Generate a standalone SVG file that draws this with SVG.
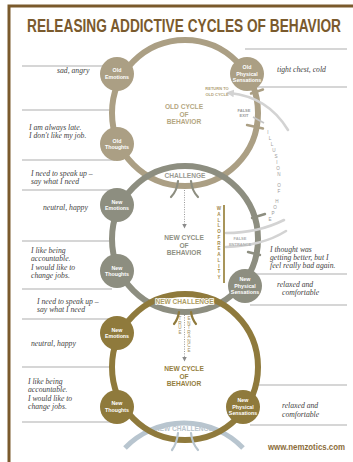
<svg xmlns="http://www.w3.org/2000/svg" width="353" height="462" viewBox="0 0 353 462">
<defs>
<style>
.hand{font-family:"Liberation Serif","DejaVu Serif",serif;font-style:italic;font-size:7.7px;fill:#444}
.nl{font-family:"Liberation Sans",Arial,sans-serif;font-weight:bold;font-size:5.3px;fill:#fff;text-anchor:middle}
.ct{font-family:"Liberation Sans",Arial,sans-serif;font-weight:bold;font-size:6.6px;text-anchor:middle}
.sm{font-family:"Liberation Sans",Arial,sans-serif;font-weight:bold;font-size:4px;text-anchor:middle}
.vl{font-family:"Liberation Sans",Arial,sans-serif;font-size:4.6px;text-anchor:middle}
.rule{stroke:#c9c9c9;stroke-width:1.3;fill:none}
.ring{fill:none;stroke-width:6}
.old{stroke:#ab9f84}
.new{stroke:#8d8e80}
.gold{stroke:#8f7a3c}
.nodeOld{fill:#ab9f84}
.nodeNew{fill:#8d8e80}
.nodeGold{fill:#8f7a3c}
.hook{fill:none;stroke-width:2.2;stroke-linecap:round}
.tick{stroke-width:2.4;stroke-linecap:round}
.dot{stroke:#9a9a9a;stroke-width:1;stroke-dasharray:1 1.4;fill:none}
.pale{fill:none;stroke:#d3d3d3;stroke-width:2.6;stroke-linecap:round}
.halo{stroke:#fff;stroke-width:1.4;paint-order:stroke}
</style>
<marker id="ah" viewBox="0 0 6 6" refX="3" refY="3" markerWidth="5" markerHeight="5" orient="auto"><path d="M0,0 L6,3 L0,6 z" fill="#8a8a8a"/></marker>
<marker id="ahp" viewBox="0 0 6 6" refX="3" refY="3" markerWidth="3" markerHeight="3" orient="auto-start-reverse"><path d="M0,0 L6,3 L0,6 z" fill="#d3d3d3"/></marker>
</defs>
<rect width="353" height="462" fill="#fff"/>
<rect x="9" y="6" width="400" height="500" fill="none" stroke="#7a5a2c" stroke-width="3"/>
<text transform="translate(184,32) scale(0.74,1)" x="0" y="0" text-anchor="middle" font-family="Liberation Sans, Arial, sans-serif" font-weight="bold" font-size="18.5" fill="#7a5a2d">RELEASING ADDICTIVE CYCLES OF BEHAVIOR</text>

<g id="rules">
<line class="rule" x1="22" y1="66" x2="112" y2="66"/>
<line class="rule" x1="22" y1="110" x2="112" y2="110"/>
<line class="rule" x1="22" y1="160" x2="115" y2="160"/>
<line class="rule" x1="22" y1="190" x2="113" y2="190"/>
<line class="rule" x1="22" y1="241" x2="114" y2="241"/>
<line class="rule" x1="22" y1="289" x2="112" y2="289"/>
<line class="rule" x1="22" y1="319" x2="112" y2="319"/>
<line class="rule" x1="22" y1="367" x2="111" y2="367"/>
<line class="rule" x1="22" y1="422" x2="112" y2="422"/>
<line class="rule" x1="245" y1="49" x2="347" y2="49"/>
<line class="rule" x1="253" y1="87" x2="347" y2="87"/>
<line class="rule" x1="250" y1="274" x2="347" y2="274"/>
<line class="rule" x1="250" y1="305" x2="347" y2="305"/>
<line class="rule" x1="255" y1="385" x2="347" y2="385"/>
<line class="rule" x1="250" y1="425" x2="347" y2="425"/>
</g>

<g id="connectors">
<path d="M125,448 A82,82 0 0 1 243,448" fill="none" stroke="#b8c5cf" stroke-width="5"/>
<circle cx="185" cy="113" r="73" class="ring old"/>
<circle cx="185" cy="239" r="73" class="ring new"/>
<circle cx="185" cy="367" r="73" class="ring gold"/>
<line class="tick old" x1="251" y1="93.5" x2="263" y2="89.5"/>
<line class="tick old" x1="247" y1="125" x2="263" y2="128.5"/>
<line class="tick new" x1="252" y1="218" x2="265" y2="214"/>
<line class="tick new" x1="248" y1="252" x2="260" y2="255"/>
<path class="hook new" d="M178,181 Q177,191 171,197"/>
<path class="hook new" d="M191,181 Q192,191 198,197"/>
<path class="hook gold" d="M179,312 Q178,319 174,324"/>
<path class="hook gold" d="M191,312 Q192,319 196,324"/>
<path class="hook" stroke="#b8c5cf" d="M178,433 Q177,443 172,450"/>
<path class="hook" stroke="#b8c5cf" d="M191,433 Q192,443 198,450"/>
<line class="dot" x1="184.5" y1="190" x2="184.5" y2="226" marker-end="url(#ah)"/>
<line class="dot" x1="184.5" y1="315" x2="184.5" y2="359" marker-end="url(#ah)"/>
<path class="pale" d="M230,93 Q268,97 288,130" marker-start="url(#ahp)"/>
<line x1="253" y1="117" x2="264" y2="123" stroke="#c4c4c4" stroke-width="1.6"/>
<path class="pale" d="M226,233 Q258,233 284,220"/>
<path class="pale" d="M226,247 Q262,246 286,231"/>
<line x1="224" y1="205" x2="224" y2="283" stroke="#a8955a" stroke-width="2"/>
</g>

<g id="old-emotions"><circle cx="117" cy="74" r="17" class="nodeOld"/><text class="nl" x="117" y="72">Old</text><text class="nl" x="117" y="78.5">Emotions</text></g>
<g id="old-physical"><circle cx="247" cy="74" r="17" class="nodeOld"/><text class="nl" x="247" y="69">Old</text><text class="nl" x="247" y="75.5">Physical</text><text class="nl" x="247" y="82">Sensations</text></g>
<g id="old-thoughts"><circle cx="117" cy="144" r="17" class="nodeOld"/><text class="nl" x="117" y="142.5">Old</text><text class="nl" x="117" y="149">Thoughts</text></g>
<g id="new-emotions-1"><circle cx="117" cy="205" r="17" class="nodeNew"/><text class="nl" x="117" y="203.5">New</text><text class="nl" x="117" y="210">Emotions</text></g>
<g id="new-thoughts-1"><circle cx="117" cy="271" r="17" class="nodeNew"/><text class="nl" x="117" y="269.5">New</text><text class="nl" x="117" y="276">Thoughts</text></g>
<g id="new-physical-1"><circle cx="245" cy="286" r="17" class="nodeNew"/><text class="nl" x="245" y="281">New</text><text class="nl" x="245" y="287.5">Physical</text><text class="nl" x="245" y="294">Sensations</text></g>
<g id="new-emotions-2"><circle cx="117" cy="333" r="17" class="nodeGold"/><text class="nl" x="117" y="331.5">New</text><text class="nl" x="117" y="338">Emotions</text></g>
<g id="new-thoughts-2"><circle cx="117" cy="407" r="17" class="nodeGold"/><text class="nl" x="117" y="405">New</text><text class="nl" x="117" y="411.5">Thoughts</text></g>
<g id="new-physical-2"><circle cx="243" cy="407" r="17" class="nodeGold"/><text class="nl" x="243" y="402">New</text><text class="nl" x="243" y="408.5">Physical</text><text class="nl" x="243" y="415">Sensations</text></g>

<g id="cycle-labels">
<text class="ct" fill="#b5a782" x="184" y="109">OLD CYCLE</text>
<text class="ct" fill="#b5a782" x="184" y="116.5">OF</text>
<text class="ct" fill="#b5a782" x="184" y="124">BEHAVIOR</text>
<text class="ct" fill="#8f9083" x="184" y="240">NEW CYCLE</text>
<text class="ct" fill="#8f9083" x="184" y="247.5">OF</text>
<text class="ct" fill="#8f9083" x="184" y="255">BEHAVIOR</text>
<text class="ct" fill="#957e3e" x="184" y="371">NEW CYCLE</text>
<text class="ct" fill="#957e3e" x="184" y="378.5">OF</text>
<text class="ct" fill="#957e3e" x="184" y="386">BEHAVIOR</text>
<text class="ct" fill="#9a9a92" x="185" y="178" font-size="5.8" font-weight="normal">CHALLENGE</text>
<text class="ct halo" fill="#ad9c62" x="184.5" y="304" font-size="5.5">NEW CHALLENGE</text>
<text class="ct" fill="#b8c4cd" x="184" y="431" font-size="5.8">NEW CHALLENGE</text>
<text class="sm" fill="#b09f78" x="217" y="90" text-anchor="end">RETURN TO</text>
<text class="sm" fill="#b09f78" x="217" y="95.5" text-anchor="end">OLD CYCLE</text>
<text class="sm" fill="#9a9a9a" x="244" y="112">FALSE</text>
<text class="sm" fill="#9a9a9a" x="244" y="117">EXIT</text>
<text class="sm" fill="#b0b0b0" x="240" y="240">FALSE</text>
<text class="sm" fill="#b0b0b0" x="240" y="245.5">ENTRANCE</text>
<text class="vl" fill="#9a9a9a" x="268 270 272 274 276 277 278 279 279 279 277 275 273 270" y="134 140 146 152 158 164 170 176 187 193 203 209 215 221">ILLUSIONOFHOPE</text>
<text class="vl" fill="#a0884a" font-weight="bold" x="219 219 219 219 219 219 219 219 219 219 219 219 219" y="210 216 221.5 227 233 239 244.5 250 256 262 267.5 273 279">WALLOFREALITY</text>
<text class="vl" fill="#a08c5a" font-size="4.2" x="180 180 180 180" y="320 324.5 329 333.5">TRUE</text>
<text class="vl" fill="#a08c5a" font-size="4.2" x="189 189 189 189 189 189 189 189" y="320 324.5 329 333.5 338 342.5 347 351.5">ENTRANCE</text>
</g>

<g id="notes">
<text class="hand" x="57" y="73">sad, angry</text>
<text class="hand" x="277" y="72">tight chest, cold</text>
<text class="hand" x="29" y="129.5">I am always late.</text>
<text class="hand" x="29" y="137.5">I don't like my job.</text>
<text class="hand" x="31" y="175.5">I need to speak up –</text>
<text class="hand" x="31" y="183.5">say what I need</text>
<text class="hand" x="43" y="210">neutral, happy</text>
<text class="hand" x="31" y="253">I like being</text>
<text class="hand" x="31" y="261">accountable.</text>
<text class="hand" x="31" y="269.5">I would like to</text>
<text class="hand" x="31" y="277.5">change jobs.</text>
<text class="hand" x="270" y="251.5">I thought was</text>
<text class="hand" x="270" y="259.5">getting better, but I</text>
<text class="hand" x="270" y="267.5">feel really bad again.</text>
<text class="hand" x="277" y="287">relaxed and</text>
<text class="hand" x="282" y="295">comfortable</text>
<text class="hand" x="37" y="303.5">I need to speak up –</text>
<text class="hand" x="37" y="311.5">say what I need</text>
<text class="hand" x="31" y="346">neutral, happy</text>
<text class="hand" x="28" y="384">I like being</text>
<text class="hand" x="28" y="392">accountable.</text>
<text class="hand" x="28" y="400.5">I would like to</text>
<text class="hand" x="28" y="408.5">change jobs.</text>
<text class="hand" x="282" y="408">relaxed and</text>
<text class="hand" x="282" y="416.5">comfortable</text>
</g>
<text x="345" y="450" text-anchor="end" font-family="Liberation Sans, Arial, sans-serif" font-weight="bold" font-size="8.5" fill="#8b6d3a" textLength="77" lengthAdjust="spacingAndGlyphs">www.nemzotics.com</text>
</svg>
